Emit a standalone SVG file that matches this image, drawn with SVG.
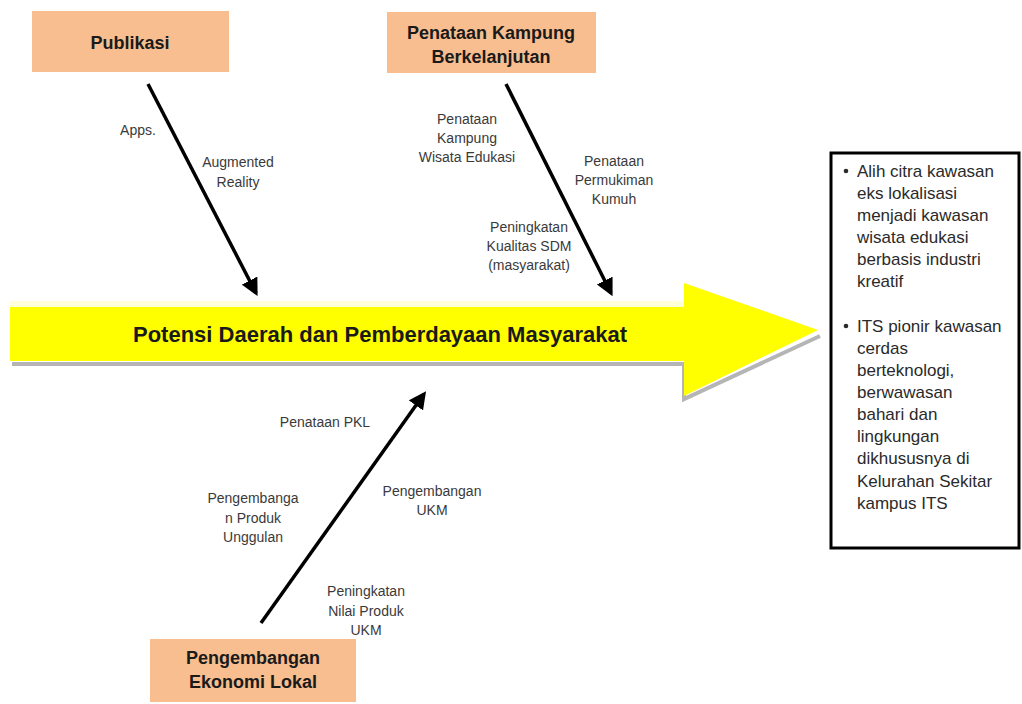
<svg xmlns="http://www.w3.org/2000/svg" width="1022" height="704" viewBox="0 0 1022 704">
  <defs>
    <style>
      .cat rect { fill: #F8BE90; }
      .cat text { font-family: "Liberation Sans", Arial, sans-serif; font-weight: bold; font-size: 18px; fill: #1a1a1a; text-anchor: middle; }
      .lbl { font-family: "Liberation Sans", Arial, sans-serif; font-size: 14px; fill: #3a3a3a; text-anchor: middle; }
      .bone { stroke: #000; stroke-width: 3.5; fill: none; marker-end: url(#head); }
      .outcome text { font-family: "Liberation Sans", Arial, sans-serif; font-size: 17px; fill: #2a2a2a; }
    </style>
    <marker id="head" viewBox="0 0 10 10" refX="8" refY="5" markerWidth="5" markerHeight="5" orient="auto" markerUnits="strokeWidth">
      <path d="M0,0 L10,5 L0,10 z" fill="#000"/>
    </marker>
  </defs>

  <rect width="1022" height="704" fill="#ffffff"/>

  <!-- main spine: big yellow arrow with grey shadow -->
  <g id="spine">
    <path d="M12,364 L684,364 L684,399 L820,336" fill="none" stroke="#b5b5b5" stroke-width="4"/>
    <rect x="10" y="301" width="674" height="8" fill="#FFFFD8"/>
    <path d="M10,307 L684,307 L684,283 L818,330 L684,396 L684,361 L10,361 z" fill="#FFFF00"/>
    <text x="380" y="342" text-anchor="middle" font-family="Liberation Sans, Arial, sans-serif" font-weight="bold" font-size="22px" fill="#1a1a1a">Potensi Daerah dan Pemberdayaan Masyarakat</text>
  </g>

  <!-- category nodes -->
  <g id="publikasi" class="cat">
    <rect x="32" y="11" width="197" height="61"/>
    <text x="130" y="49">Publikasi</text>
  </g>
  <g id="penataan-kampung" class="cat">
    <rect x="387" y="12" width="209" height="61"/>
    <text x="491" y="39">Penataan Kampung</text>
    <text x="491" y="63">Berkelanjutan</text>
  </g>
  <g id="ekonomi-lokal" class="cat">
    <rect x="150" y="639" width="206" height="63"/>
    <text x="253" y="664">Pengembangan</text>
    <text x="253" y="688">Ekonomi Lokal</text>
  </g>

  <!-- connectors (bones) -->
  <g id="connectors">
    <line class="bone" x1="148" y1="84" x2="256" y2="293"/>
    <line class="bone" x1="506" y1="84" x2="611" y2="293"/>
    <line class="bone" x1="261" y1="623" x2="424" y2="394"/>
  </g>

  <!-- sub-cause labels -->
  <g id="labels">
    <text class="lbl" x="138" y="135">Apps.</text>
    <text class="lbl" x="238" y="167">Augmented</text>
    <text class="lbl" x="238" y="187">Reality</text>

    <text class="lbl" x="467" y="124">Penataan</text>
    <text class="lbl" x="467" y="143">Kampung</text>
    <text class="lbl" x="467" y="162">Wisata Edukasi</text>
    <text class="lbl" x="614" y="166">Penataan</text>
    <text class="lbl" x="614" y="185">Permukiman</text>
    <text class="lbl" x="614" y="204">Kumuh</text>
    <text class="lbl" x="529" y="232">Peningkatan</text>
    <text class="lbl" x="529" y="251">Kualitas SDM</text>
    <text class="lbl" x="529" y="270">(masyarakat)</text>

    <text class="lbl" x="325" y="427">Penataan PKL</text>
    <text class="lbl" x="253" y="503">Pengembanga</text>
    <text class="lbl" x="253" y="523">n Produk</text>
    <text class="lbl" x="253" y="542">Unggulan</text>
    <text class="lbl" x="432" y="496">Pengembangan</text>
    <text class="lbl" x="432" y="515">UKM</text>
    <text class="lbl" x="366" y="596">Peningkatan</text>
    <text class="lbl" x="366" y="616">Nilai Produk</text>
    <text class="lbl" x="366" y="635">UKM</text>
  </g>

  <!-- outcome box -->
  <g id="outcome" class="outcome">
    <rect x="831" y="153" width="188" height="395" fill="#ffffff" stroke="#000" stroke-width="3"/>
    <circle cx="846" cy="171" r="2.3" fill="#2a2a2a"/>
    <text x="857" y="177">Alih citra kawasan</text>
    <text x="857" y="199">eks lokalisasi</text>
    <text x="857" y="221">menjadi kawasan</text>
    <text x="857" y="243">wisata edukasi</text>
    <text x="857" y="265">berbasis industri</text>
    <text x="857" y="287">kreatif</text>
    <circle cx="846" cy="326" r="2.3" fill="#2a2a2a"/>
    <text x="857" y="332">ITS pionir kawasan</text>
    <text x="857" y="354">cerdas</text>
    <text x="857" y="376">berteknologi,</text>
    <text x="857" y="398">berwawasan</text>
    <text x="857" y="420">bahari dan</text>
    <text x="857" y="442">lingkungan</text>
    <text x="857" y="464">dikhususnya di</text>
    <text x="857" y="487">Kelurahan Sekitar</text>
    <text x="857" y="509">kampus ITS</text>
  </g>
</svg>
